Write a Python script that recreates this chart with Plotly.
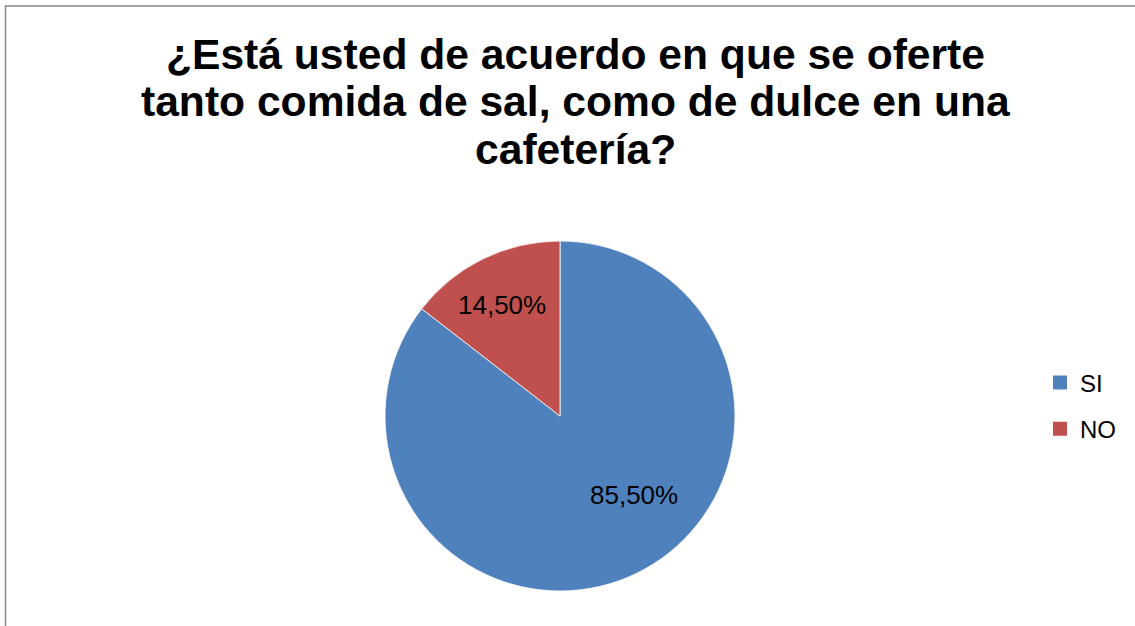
import plotly.graph_objects as go

# Survey answers and their shares (%)
categories = ["SI", "NO"]
shares = [85.5, 14.5]
colors = ["#4F81BD", "#C0504D"]

title_lines = [
    "¿Está usted de acuerdo en que se oferte",
    "tanto comida de sal, como de dulce en una",
    "cafetería?",
]

W, H = 1135, 626
FONT = "Liberation Sans, Arial"


def px_x(x):
    return x / W


def px_y(y):
    return 1 - y / H


def pct_label(v):
    return f"{v:.2f}%".replace(".", ",")


fig = go.Figure()

fig.add_trace(go.Pie(
    labels=categories,
    values=shares,
    sort=False,
    direction="clockwise",
    rotation=0,
    marker=dict(colors=colors, line=dict(color="#FFFFFF", width=0.8)),
    # the slice labels are placed as annotations below
    textinfo="none",
    domain=dict(x=[px_x(385), px_x(735)], y=[px_y(591), px_y(241)]),
    showlegend=False,
    hoverinfo="label+percent",
))

# Legend entries as square swatches, one per category
for name, col in zip(categories, colors):
    fig.add_trace(go.Scatter(
        x=[None], y=[None], mode="markers", name=name,
        legendgroup=name,
        marker=dict(symbol="square", size=14, color=col),
    ))

annotations = []
# Title, one annotation per line to keep the tight line spacing
for i, line in enumerate(title_lines):
    annotations.append(dict(
        text=line, showarrow=False,
        xref="paper", yref="paper",
        x=px_x(575.5), xanchor="center",
        y=px_y(53.5 + 47.5 * i), yanchor="middle",
        font=dict(family=FONT, size=42.6, color="#000000", weight="bold"),
    ))

# Percentage labels inside the slices
label_pos = [(634, 495), (502, 305)]
for v, (lx, ly) in zip(shares, label_pos):
    annotations.append(dict(
        text=pct_label(v), showarrow=False,
        xref="paper", yref="paper",
        x=px_x(lx), xanchor="center",
        y=px_y(ly), yanchor="middle",
        font=dict(family=FONT, size=26, color="#000000"),
    ))

fig.update_layout(
    width=W, height=H,
    margin=dict(l=0, r=0, t=0, b=0),
    paper_bgcolor="#FFFFFF",
    plot_bgcolor="#FFFFFF",
    font=dict(family=FONT, color="#000000"),
    xaxis=dict(visible=False),
    yaxis=dict(visible=False),
    legend=dict(
        x=px_x(1040), xanchor="left",
        y=px_y(406), yanchor="middle",
        font=dict(family=FONT, size=24, color="#000000"),
        tracegroupgap=12,
        bgcolor="rgba(0,0,0,0)",
    ),
    annotations=annotations,
    shapes=[dict(
        type="rect", xref="paper", yref="paper",
        x0=px_x(5.5), x1=px_x(1142), y0=px_y(640), y1=px_y(6),
        line=dict(color="#868686", width=1.5),
        fillcolor="rgba(0,0,0,0)", layer="below",
    )],
)

fig.write_html("out.html")
